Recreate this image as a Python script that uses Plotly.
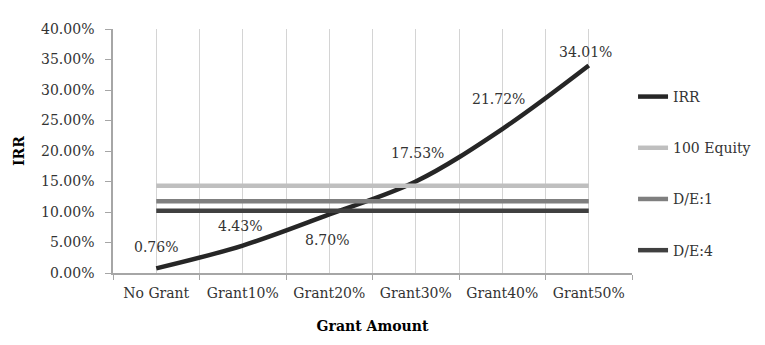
import plotly.graph_objects as go

# categories on the x axis
categories = ["No Grant", "Grant10%", "Grant20%", "Grant30%", "Grant40%", "Grant50%"]

# IRR curve (percent)
irr = [0.76, 4.5, 9.6, 15.0, 23.6, 34.01]
# data labels printed on the chart
irr_labels = ["0.76%", "4.43%", "8.70%", "17.53%", "21.72%", "34.01%"]

# flat reference levels (percent)
equity_100 = 14.3
de_1 = 11.75
de_4 = 10.2

font_name = "DejaVu Serif"
text_col = "#333333"
x = list(range(len(categories)))

fig = go.Figure()

fig.add_trace(go.Scatter(x=x, y=irr, mode="lines", name="IRR",
                         line=dict(color="#262626", width=4.5, shape="spline", smoothing=1.0),
                         legendgroup="a"))
fig.add_trace(go.Scatter(x=x, y=[equity_100] * len(x), mode="lines", name="100 Equity",
                         line=dict(color="#bfbfbf", width=4.5), legendgroup="b"))
fig.add_trace(go.Scatter(x=x, y=[de_1] * len(x), mode="lines", name="D/E:1",
                         line=dict(color="#7f7f7f", width=4.5), legendgroup="c"))
fig.add_trace(go.Scatter(x=x, y=[de_4] * len(x), mode="lines", name="D/E:4",
                         line=dict(color="#404040", width=4.5), legendgroup="d"))

# label offsets in pixels, roughly where excel put them
shifts = [(0, 21), (-3, 20), (-2, -26), (2, 29), (-4, 30), (-3, 14)]
for i, lab in enumerate(irr_labels):
    fig.add_annotation(x=x[i], y=irr[i], text=lab, showarrow=False,
                       xshift=shifts[i][0], yshift=shifts[i][1],
                       font=dict(family=font_name, size=14, color=text_col))

# page body adds an 8px margin, so pull the plot area up/left by that much
fig.update_layout(
    width=765, height=345,
    margin=dict(l=105, r=141, t=21, b=80),
    paper_bgcolor="white", plot_bgcolor="white",
    font=dict(family=font_name, size=14, color=text_col),
    showlegend=True,
    legend=dict(x=1.002, y=0.787, xanchor="left", yanchor="top",
                traceorder="grouped", tracegroupgap=30, itemwidth=30,
                font=dict(family=font_name, size=14, color=text_col)),
)

fig.update_xaxes(
    range=[-0.5, 5.5], tickvals=x, ticktext=categories,
    showgrid=True, gridcolor="#d4d4d4", gridwidth=1,
    ticks="", showline=True, linecolor="#a6a6a6", linewidth=1.5,
    zeroline=False, automargin=False, ticklabelstandoff=6,
    minor=dict(tickvals=[i - 0.5 for i in range(len(categories) + 1)],
               ticks="outside", ticklen=5, tickcolor="#a6a6a6",
               showgrid=True, gridcolor="#d4d4d4"),
    title=dict(text="<b>Grant Amount</b>", standoff=22,
               font=dict(family=font_name, size=14, color="black")),
)

fig.update_yaxes(
    range=[0, 40], dtick=5, tickformat=".2f", ticksuffix="%",
    showgrid=False, zeroline=False, automargin=False, ticklabelstandoff=8,
    ticks="outside", ticklen=6, tickcolor="#a6a6a6",
    showline=True, linecolor="#a6a6a6", linewidth=1.5,
    title=dict(text="<b>IRR</b>", standoff=13,
               font=dict(family=font_name, size=14, color="black")),
)

fig.write_html("out.html")
